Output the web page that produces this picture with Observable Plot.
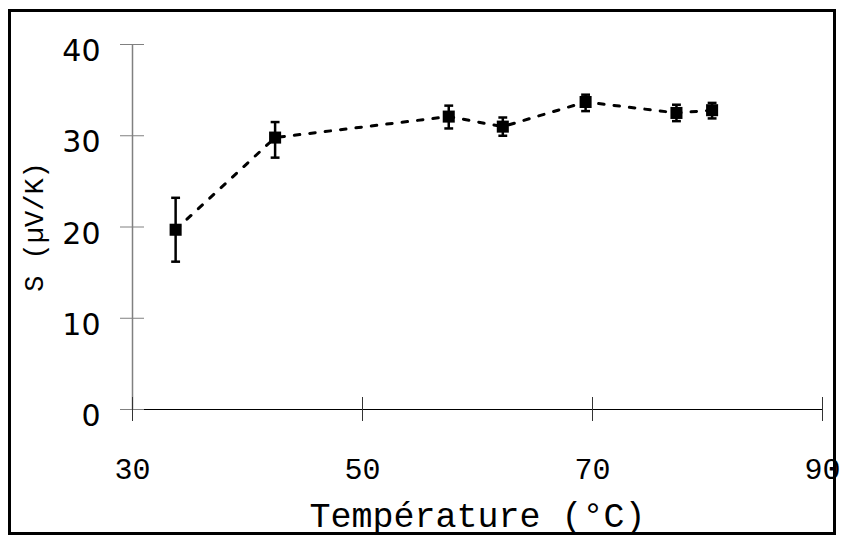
<!DOCTYPE html>
<html>
<head>
<meta charset="utf-8">
<script src="https://cdn.jsdelivr.net/npm/d3@7"></script>
<script src="https://cdn.jsdelivr.net/npm/@observablehq/plot@0.6"></script>
<style>
  html, body { margin: 0; padding: 0; background: #fff; }
  #wrap { position: relative; width: 844px; height: 540px; }
  #border { position: absolute; left: 8px; top: 9px; width: 822px; height: 520px; border: 3px solid #000; pointer-events: none; }
</style>
</head>
<body>
<div id="wrap"><div id="border"></div></div>
<script>
const temps   = [33.75, 42.4, 57.5, 62.2, 69.4, 77.3, 80.4];
const seebeck = [19.7, 29.8, 32.1, 31.0, 33.7, 32.5, 32.8];
const errLow  = [16.2, 27.6, 30.8, 30.0, 32.7, 31.6, 31.9];
const errHigh = [23.2, 31.5, 33.3, 32.0, 34.5, 33.4, 33.6];
const xTicks = [30, 50, 70, 90];
const yTicks = [0, 10, 20, 30, 40];
const xLabel = "Température (°C)";
const yLabel = "S (µV/K)";

const data = temps.map((t, i) => ({t, s: seebeck[i], lo: errLow[i], hi: errHigh[i]}));

const cap = {
  draw(ctx, size) {
    const w = Math.sqrt(size);
    ctx.moveTo(-w, 0);
    ctx.lineTo(w, 0);
  }
};

const chart = Plot.plot({
  width: 844,
  height: 540,
  marginLeft: 132,
  marginRight: 22,
  marginTop: 44,
  marginBottom: 131,
  style: {background: "transparent"},
  x: {domain: [30, 90]},
  y: {domain: [0, 40]},
  marks: [
    Plot.ruleX([30], {stroke: "#808080", strokeWidth: 1.5}),
    Plot.ruleY([0], {stroke: "#000", strokeWidth: 1}),
    Plot.axisY({ticks: yTicks, tickSize: 12, text: null, stroke: "#808080", label: null}),
    Plot.axisY({ticks: yTicks, tickSize: -12, text: null, stroke: "#808080", label: null}),
    Plot.axisY({ticks: yTicks, tickSize: 0, tickPadding: 32, dy: 7, fontFamily: "DejaVu Sans", fontSize: 30, fill: "#000", label: null}),
    Plot.axisX({ticks: xTicks, tickSize: 12, tickPadding: 36, stroke: "#333", fontFamily: "Liberation Mono", fontSize: 30, fill: "#000", label: null}),
    Plot.axisX({ticks: xTicks, tickSize: -12, text: null, stroke: "#333", label: null}),
    Plot.line(data, {x: "t", y: "s", stroke: "#000", strokeWidth: 3, strokeDasharray: "5.5,10"}),
    Plot.ruleX(data, {x: "t", y1: "lo", y2: "hi", stroke: "#000", strokeWidth: 2.5}),
    Plot.dot(data, {x: "t", y: "hi", symbol: cap, r: 2.5, stroke: "#000", strokeWidth: 2.5}),
    Plot.dot(data, {x: "t", y: "lo", symbol: cap, r: 2.5, stroke: "#000", strokeWidth: 2.5}),
    Plot.dot(data, {x: "t", y: "s", symbol: "square", r: 6.8, fill: "#000", stroke: "none"}),
    Plot.text([xLabel], {frameAnchor: "bottom", textAnchor: "middle", dy: 106, fontFamily: "Liberation Mono", fontSize: 35, fill: "#000", lineAnchor: "middle"}),
    Plot.text([yLabel], {frameAnchor: "left", textAnchor: "middle", dx: -98, rotate: -90, fontFamily: "Liberation Mono", fontSize: 27, fill: "#000", lineAnchor: "middle"})
  ]
});
document.getElementById("wrap").prepend(chart);
chart.style.position = "absolute";
chart.style.left = "0";
chart.style.top = "0";
</script>
</body>
</html>
